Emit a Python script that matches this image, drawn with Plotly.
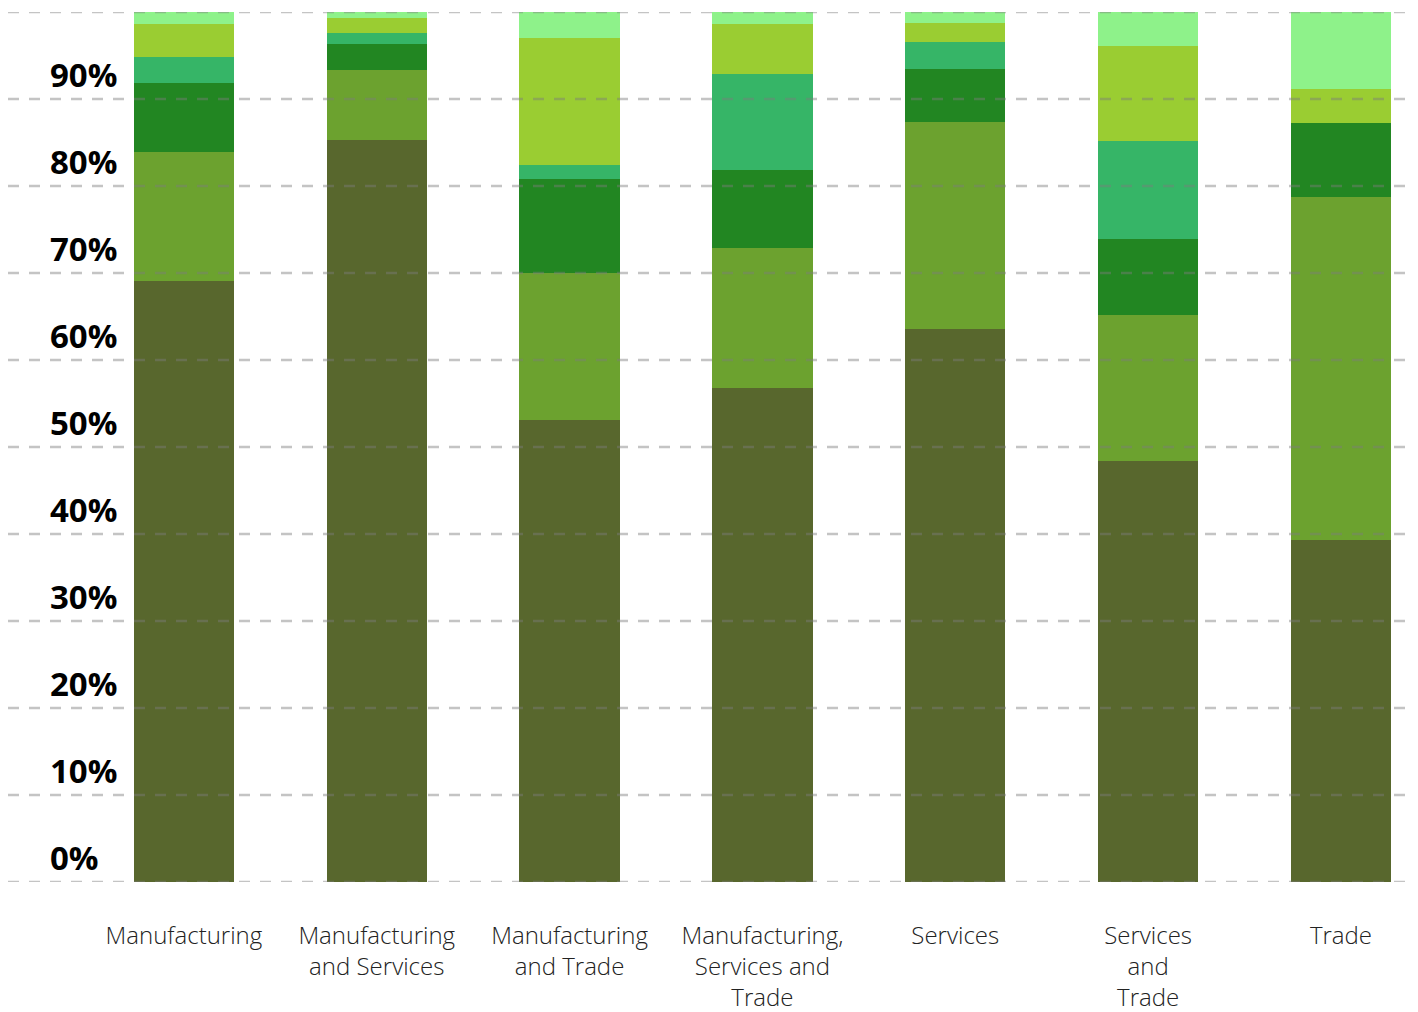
import plotly.graph_objects as go

# Sector groups on the x axis (line breaks as displayed)
categories = [
    "Manufacturing",
    "Manufacturing<br>and Services",
    "Manufacturing<br>and Trade",
    "Manufacturing,<br>Services and<br>Trade",
    "Services",
    "Services<br>and<br>Trade",
    "Trade",
]

# Share of each band within a sector group, in percent (bottom to top)
band_1 = [69.1, 85.3, 53.1, 56.8, 63.6, 48.4, 39.3]
band_2 = [14.8, 8.0, 16.9, 16.1, 23.7, 16.8, 39.4]
band_3 = [7.9, 3.0, 10.8, 8.9, 6.1, 8.7, 8.5]
band_4 = [3.0, 1.3, 1.6, 11.1, 3.1, 11.3, 0.0]
band_5 = [3.8, 1.7, 14.6, 5.7, 2.2, 10.9, 3.9]
band_6 = [1.4, 0.7, 3.0, 1.4, 1.3, 3.9, 8.9]

band_names = ["Band 1", "Band 2", "Band 3", "Band 4", "Band 5", "Band 6"]
band_values = [band_1, band_2, band_3, band_4, band_5, band_6]
band_colors = ["#58672D", "#6CA22F", "#228622", "#36B567", "#9ACD32", "#8EF28A"]

tick_values = [0, 10, 20, 30, 40, 50, 60, 70, 80, 90]
tick_labels = ["0%", "10%", "20%", "30%", "40%", "50%", "60%", "70%", "80%", "90%"]
grid_values = tick_values + [100]

fig = go.Figure()
for name, vals, color in zip(band_names, band_values, band_colors):
    fig.add_trace(go.Bar(
        x=categories,
        y=vals,
        name=name,
        marker=dict(color=color, line=dict(width=0)),
        width=0.52,
        hoverinfo="x+y+name",
    ))

# Dashed gridlines drawn over the bars
for gv in grid_values:
    fig.add_shape(
        type="line", xref="paper", x0=0, x1=1, yref="y", y0=gv, y1=gv,
        line=dict(color="rgba(125,125,125,0.45)", width=2.5, dash="11px,10px"),
        layer="above",
    )

# Percentage labels sit just above their gridline, on the left
for tv, tl in zip(tick_values, tick_labels):
    fig.add_annotation(
        x=0.0285, xref="paper", xanchor="left",
        y=tv, yref="y", yanchor="middle", yshift=25,
        text=tl, showarrow=False,
        font=dict(family="Open Sans", size=33, color="#000000", weight="bold"),
    )

fig.update_layout(
    barmode="stack",
    width=1418,
    height=1012,
    margin=dict(l=8, r=8, t=12, b=130, autoexpand=False),
    paper_bgcolor="white",
    plot_bgcolor="white",
    showlegend=False,
    font=dict(family="Open Sans", color="#222222"),
    xaxis=dict(
        range=[-0.912, 6.358],
        showgrid=False,
        zeroline=False,
        showline=False,
        automargin=False,
        ticks="",
        tickfont=dict(family="Open Sans", size=24, color="#222222", weight=300),
        ticklabelstandoff=37,
    ),
    yaxis=dict(
        range=[0, 100],
        showgrid=False,
        zeroline=False,
        showline=False,
        automargin=False,
        showticklabels=False,
        ticks="",
    ),
)

fig.write_html("out.html")
